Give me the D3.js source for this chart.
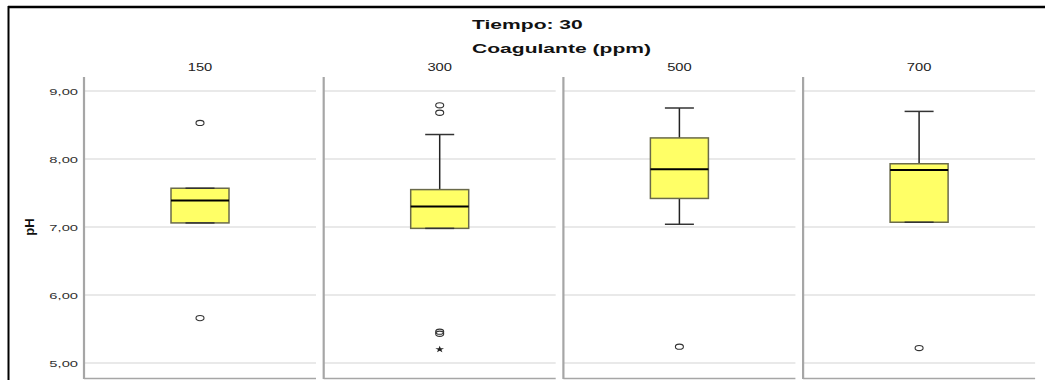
<!DOCTYPE html>
<html>
<head>
<meta charset="utf-8">
<script src="https://cdn.jsdelivr.net/npm/d3@7"></script>
<style>
  html, body { margin: 0; padding: 0; background: #fff; }
  svg { display: block; }
  text { font-family: "Liberation Sans", Arial, sans-serif; }
</style>
</head>
<body>
<svg id="chart" width="1045" height="380"></svg>
<script>
// pH by coagulant dose (Tiempo = 30), boxplot summaries per dose
const categories   = ["150", "300", "500", "700"];
const q1           = [7.06, 6.98, 7.42, 7.07];
const medians      = [7.39, 7.30, 7.85, 7.84];
const q3           = [7.57, 7.55, 8.31, 7.93];
const whiskerLow   = [7.06, 6.98, 7.04, 7.07];
const whiskerHigh  = [7.57, 8.36, 8.75, 8.70];
const outliers     = [[8.53, 5.66], [8.79, 8.68, 5.46, 5.43], [5.24], [5.22]];
const extremes     = [[], [5.20], [], []];
const yTicks       = [5, 6, 7, 8, 9];
const yTickLabels  = ["5,00", "6,00", "7,00", "8,00", "9,00"];

const titleText  = "Tiempo: 30";
const panelTitle = "Coagulante (ppm)";
const yLabel     = "pH";

const SX = 1.55;            // horizontal text stretch
const svg = d3.select("#chart");

// frame
svg.append("line").attr("x1", 8).attr("x2", 1045).attr("y1", 7).attr("y2", 7)
  .attr("stroke", "#000").attr("stroke-width", 2.5);
svg.append("line").attr("x1", 8.5).attr("x2", 8.5).attr("y1", 6).attr("y2", 380)
  .attr("stroke", "#000").attr("stroke-width", 2);

function stretchedText(g, x, yPos, str, opts) {
  return g.append("text")
    .attr("transform", `translate(${x},${yPos}) scale(${opts.sx || SX},1)`)
    .attr("text-anchor", opts.anchor || "middle")
    .attr("font-size", opts.size)
    .attr("font-weight", opts.weight || "normal")
    .attr("fill", opts.fill || "#222")
    .text(str);
}

stretchedText(svg, 472, 29, titleText, { anchor: "start", size: 13, weight: "bold", fill: "#111", sx: 1.62 });
stretchedText(svg, 472, 53, panelTitle, { anchor: "start", size: 13, weight: "bold", fill: "#111", sx: 1.62 });

const panel = d3.scaleBand().domain(categories).range([84, 84 + 4 * 239.7]).paddingInner(0);
const plotW = 232;
const y = d3.scaleLinear().domain([5, 9]).range([363, 91]);
const plotTop = 77, plotBottom = 379;

// y axis tick labels
yTicks.forEach((t, i) => {
  stretchedText(svg, 78, y(t) + 3.5, yTickLabels[i], { anchor: "end", size: 9.5, fill: "#333" });
});

svg.append("text")
  .attr("transform", `translate(34,${y(7)}) rotate(-90)`)
  .attr("text-anchor", "middle")
  .attr("font-size", 13).attr("font-weight", "bold").attr("fill", "#111")
  .text(yLabel);

categories.forEach((c, i) => {
  const x0 = panel(c);
  const g = svg.append("g");
  const cx = x0 + plotW / 2;

  // gridlines
  g.selectAll("line.grid").data(yTicks).join("line")
    .attr("x1", x0).attr("x2", x0 + plotW)
    .attr("y1", d => y(d)).attr("y2", d => y(d))
    .attr("stroke", "#e2e2e2").attr("stroke-width", 1.5);

  // panel frame (left & bottom)
  g.append("line").attr("x1", x0).attr("x2", x0 + plotW).attr("y1", plotBottom - 0.5).attr("y2", plotBottom - 0.5)
    .attr("stroke", "#a6a6a6").attr("stroke-width", 1.5);
  g.append("line").attr("x1", x0).attr("x2", x0).attr("y1", plotTop).attr("y2", plotBottom)
    .attr("stroke", "#a6a6a6").attr("stroke-width", 2.2);

  // panel heading
  stretchedText(g, cx, 71, c, { size: 10, fill: "#222", sx: 1.47 });

  const bw = plotW * 0.25, cw = bw / 2;

  // whiskers
  g.append("line").attr("x1", cx).attr("x2", cx).attr("y1", y(whiskerHigh[i])).attr("y2", y(q3[i]))
    .attr("stroke", "#222").attr("stroke-width", 1.5);
  g.append("line").attr("x1", cx).attr("x2", cx).attr("y1", y(q1[i])).attr("y2", y(whiskerLow[i]))
    .attr("stroke", "#222").attr("stroke-width", 1.5);

  // box
  g.append("rect")
    .attr("x", cx - bw / 2).attr("width", bw)
    .attr("y", y(q3[i])).attr("height", y(q1[i]) - y(q3[i]))
    .attr("fill", "#ffff66").attr("stroke", "#6a6a4a").attr("stroke-width", 1.5);

  // caps
  [whiskerHigh[i], whiskerLow[i]].forEach(v => {
    g.append("line").attr("x1", cx - cw / 2).attr("x2", cx + cw / 2).attr("y1", y(v)).attr("y2", y(v))
      .attr("stroke", "#333").attr("stroke-width", 1.5);
  });

  // median
  g.append("line").attr("x1", cx - bw / 2).attr("x2", cx + bw / 2)
    .attr("y1", y(medians[i])).attr("y2", y(medians[i]))
    .attr("stroke", "#000").attr("stroke-width", 2);

  // outliers
  g.selectAll("ellipse.out").data(outliers[i]).join("ellipse")
    .attr("cx", cx).attr("cy", d => y(d)).attr("rx", 4).attr("ry", 2.6)
    .attr("fill", "none").attr("stroke", "#333").attr("stroke-width", 1.1);

  // extreme values
  g.selectAll("path.ext").data(extremes[i]).join("path")
    .attr("transform", d => `translate(${cx},${y(d)}) scale(1.3,1)`)
    .attr("d", d3.symbol().type(d3.symbolStar).size(14))
    .attr("fill", "#222");
});
</script>
</body>
</html>
